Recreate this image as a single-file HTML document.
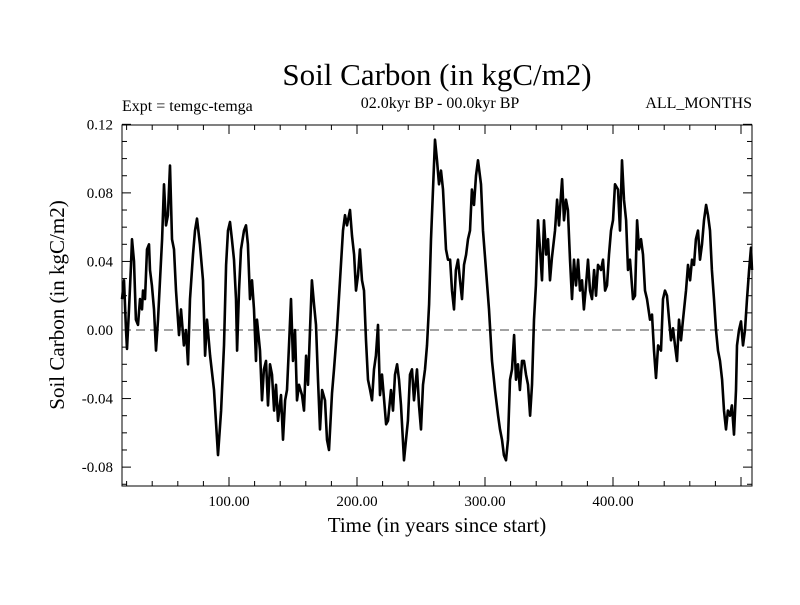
<!DOCTYPE html>
<html><head><meta charset="utf-8"><style>
body{margin:0;background:#fff;}
svg text{font-family:"Liberation Serif",serif;fill:#000;}
</style></head><body>
<svg id="chart" width="800" height="600">
<rect width="800" height="600" fill="#fff"/>
<text x="437" y="85" font-size="31" text-anchor="middle">Soil Carbon (in kgC/m2)</text>
<text x="122" y="111" font-size="16">Expt = temgc-temga</text>
<text x="440" y="108" font-size="16" text-anchor="middle">02.0kyr BP - 00.0kyr BP</text>
<text x="752" y="108" font-size="16" text-anchor="end">ALL_MONTHS</text>
<text x="437" y="532" font-size="21" text-anchor="middle">Time (in years since start)</text>
<text transform="translate(64,305) rotate(-90)" font-size="21" text-anchor="middle">Soil Carbon (in kgC/m2)</text>
<g id="axes"></g>
<g id="plot"></g>
</svg>
<script>
const yTickValues=[0.12,0.08,0.04,0.00,-0.04,-0.08];
const yTickLabels=["0.12","0.08","0.04","0.00","-0.04","-0.08"];
const xTickValues=[100,200,300,400];
const xTickLabels=["100.00","200.00","300.00","400.00"];
const years=[16.4,18.0,19.5,20.3,21.9,23.4,24.2,25.8,27.3,28.9,30.5,32.0,32.8,34.4,35.9,37.5,38.3,39.8,41.4,43.0,44.5,46.1,47.7,49.2,50.8,52.3,53.9,55.5,57.0,58.6,60.9,62.5,64.8,66.4,68.0,69.5,71.9,73.4,75.0,77.3,79.7,81.3,82.8,85.2,88.3,89.8,91.4,93.8,96.1,97.7,99.2,100.8,102.3,103.9,105.5,106.3,107.8,109.4,111.7,113.3,114.8,116.4,118.0,119.5,121.1,121.9,124.2,125.8,127.3,128.9,130.5,132.0,133.6,135.2,136.7,138.3,140.6,142.2,143.8,145.3,146.9,148.4,150.0,151.6,153.1,154.7,157.0,158.6,160.2,161.7,163.3,164.8,166.4,168.0,169.5,171.1,172.7,175.0,176.6,178.1,180.5,182.0,184.4,186.7,189.1,190.6,192.2,194.5,196.1,197.7,199.2,200.8,202.3,203.9,205.5,207.0,208.6,210.2,211.7,213.3,214.8,216.4,218.0,219.5,221.1,222.7,224.2,226.6,228.1,229.7,231.3,232.8,234.4,236.7,238.3,239.8,241.4,243.0,244.5,246.9,248.4,250.0,251.6,253.1,254.7,256.3,257.8,259.4,260.9,262.5,264.1,265.6,267.2,269.5,271.1,272.7,274.2,275.8,277.3,278.9,280.5,282.0,283.6,285.2,286.7,288.3,289.8,291.4,293.0,294.5,296.9,298.4,300.8,303.1,305.5,307.8,310.2,311.7,313.3,314.8,316.4,318.0,319.5,321.1,322.7,324.2,325.8,327.3,328.9,330.5,332.0,333.6,335.2,336.7,338.3,339.8,341.4,343.0,344.5,346.1,347.7,349.2,350.8,352.3,354.7,356.3,357.8,359.4,360.2,361.7,363.3,364.8,366.4,368.0,369.5,371.1,372.7,374.2,375.8,377.3,378.9,380.5,382.0,383.6,385.2,386.7,388.3,390.6,392.2,393.8,395.3,396.9,398.4,400.0,401.6,403.9,405.5,407.0,408.6,410.2,411.7,413.3,415.6,417.2,418.8,420.3,421.9,423.4,425.0,426.6,428.9,430.5,432.0,433.6,435.2,437.5,439.1,440.6,442.2,443.8,445.3,446.9,448.4,450.0,451.6,453.1,454.7,457.0,458.6,460.2,461.7,463.3,464.8,466.4,468.0,469.5,471.1,472.7,474.2,475.8,477.3,478.9,480.5,482.0,483.6,485.2,486.7,488.3,489.8,491.4,492.9,494.5,496.1,496.9,498.4,500.0,501.6,503.1,504.7,506.3,507.8,508.6];
const values=[.018,.029,0,-.011,.012,.038,.053,.040,.006,.003,.018,.012,.023,.018,.047,.050,.035,.026,.012,-.012,.006,.029,.053,.085,.061,.067,.096,.053,.047,.023,-.003,.012,-.009,0,-.020,.018,.044,.058,.065,.050,.029,-.015,.006,-.015,-.035,-.053,-.073,-.047,-.009,.038,.058,.063,.053,.041,.018,-.012,.023,.047,.058,.061,.050,.018,.029,.012,-.018,.006,-.012,-.041,-.023,-.018,-.044,-.020,-.026,-.047,-.032,-.053,-.038,-.064,-.041,-.035,-.009,.018,-.018,0,-.041,-.032,-.038,-.047,-.015,-.032,0,.029,.015,.003,-.029,-.058,-.035,-.041,-.064,-.070,-.037,-.023,0,.029,.058,.067,.061,.070,.055,.044,.023,.032,.047,.029,.023,-.006,-.029,-.035,-.041,-.023,-.015,.003,-.038,-.026,-.040,-.055,-.053,-.035,-.047,-.026,-.020,-.029,-.044,-.076,-.064,-.053,-.026,-.023,-.041,-.023,-.044,-.058,-.032,-.023,-.009,.015,.053,.082,.111,.099,.085,.093,.082,.047,.041,.041,.023,.012,.035,.041,.029,.018,.038,.044,.053,.058,.082,.073,.090,.099,.085,.058,.035,.012,-.018,-.035,-.050,-.058,-.064,-.073,-.076,-.064,-.029,-.023,-.003,-.029,-.020,-.035,-.018,-.018,-.026,-.032,-.050,-.032,.006,.026,.064,.047,.029,.064,.044,.053,.029,.042,.058,.076,.061,.079,.088,.064,.076,.070,.041,.018,.041,.026,.041,.023,.029,.012,.026,.041,.023,.018,.035,.020,.038,.035,.041,.023,.026,.044,.058,.064,.085,.082,.058,.099,.076,.064,.035,.041,.018,.020,.064,.047,.053,.044,.023,.018,.006,.009,-.012,-.028,-.009,-.012,.018,.023,.020,.006,-.006,.001,-.009,-.018,.006,-.006,.006,.023,.038,.029,.041,.038,.053,.058,.041,.050,.064,.073,.067,.058,.035,.018,0,-.012,-.018,-.029,-.047,-.058,-.047,-.050,-.044,-.061,-.035,-.009,0,.005,-.009,0,.018,.035,.048,.035];

const L=122,R=752,T=125,B=486;
const xs=t=>101+t*1.28;
const ys=v=>330-v*1714;
const NS="http://www.w3.org/2000/svg";
const axes=document.getElementById('axes'), plot=document.getElementById('plot');
function mk(tag,attrs,parent){const e=document.createElementNS(NS,tag);for(const k in attrs)e.setAttribute(k,attrs[k]);parent.appendChild(e);return e;}

const frame=mk('rect',{x:L,y:T,width:R-L,height:B-T,fill:'none',stroke:'#000','stroke-width':1},axes);



for(let k=-9;k<=12;k++){const y=ys(k/100);const major=k%4===0;const len=major?9:5;
 const a=mk('line',{x1:L,x2:L+len,y1:y,y2:y,stroke:'#000'},axes);
 
 
 const b=mk('line',{x1:R-len,x2:R,y1:y,y2:y,stroke:'#000'},axes);
 
 }
yTickValues.forEach((v,i)=>{const t=mk('text',{x:113,y:ys(v)+5,'font-size':15,'text-anchor':'end'},axes);t.textContent=yTickLabels[i];
 
 });
for(let yr=20;yr<=500;yr+=20){const x=xs(yr);if(x<L||x>R)continue;const len=yr%100===0?9:5;
 const a=mk('line',{x1:x,x2:x,y1:B,y2:B-len,stroke:'#000'},axes);
 
 
 const b=mk('line',{x1:x,x2:x,y1:T,y2:T+len,stroke:'#000'},axes);
 
 }
xTickValues.forEach((v,i)=>{const t=mk('text',{x:xs(v),y:506,'font-size':15,'text-anchor':'middle'},axes);t.textContent=xTickLabels[i];
 
 });

const zero=mk('line',{x1:L,x2:R,y1:ys(0),y2:ys(0),stroke:'#444','stroke-dasharray':'9,5'},plot);



const n=Math.min(years.length,values.length);
const pts=[];
for(let i=0;i<n;i++)pts.push(xs(years[i]).toFixed(1)+','+ys(values[i]).toFixed(1));
const line=mk('polyline',{points:pts.join(' '),fill:'none',stroke:'#000','stroke-width':2.6,'stroke-linejoin':'round'},plot);


</script>
</body></html>
